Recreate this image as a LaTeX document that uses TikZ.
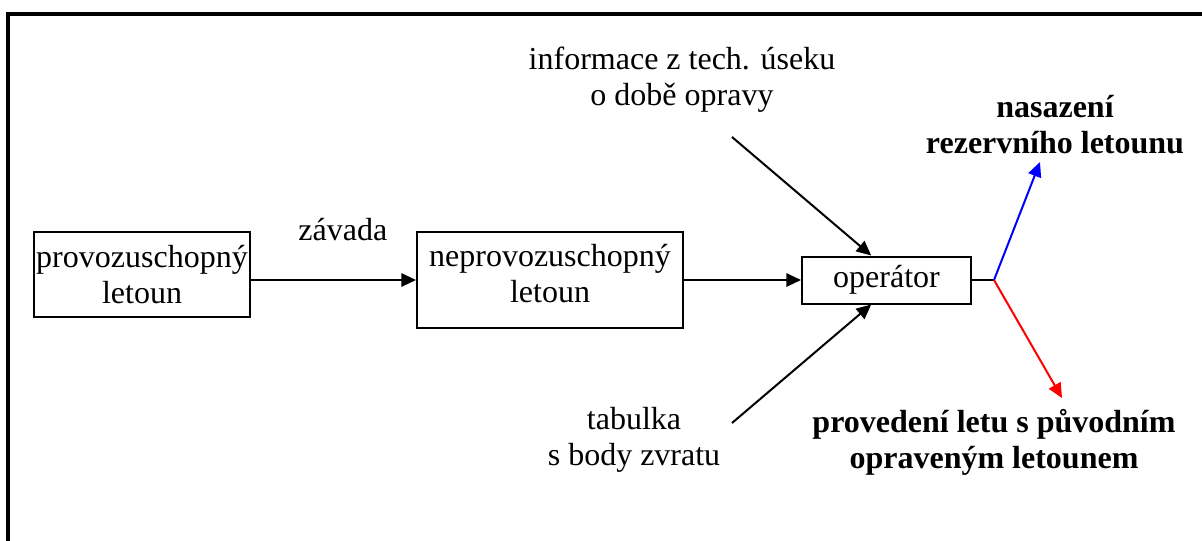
\documentclass[tikz,border=0pt]{standalone}
\usepackage{fontspec}
\setmainfont{Liberation Serif}
\usetikzlibrary{arrows.meta}

\begin{document}
\begin{tikzpicture}[x=0.75pt,y=-0.75pt,>={Triangle[length=11pt,width=10pt]},
stav/.style={rectangle,draw=black,line width=1.5pt,inner sep=1pt,align=center,font=\fontsize{24}{27}\selectfont},
popis/.style={align=center,font=\fontsize{24}{27}\selectfont},
vysledek/.style={align=center,font=\fontsize{24}{27}\selectfont\bfseries}]

\useasboundingbox (0,0) rectangle (1202,540);
\begin{scope}
\clip (0,0) rectangle (1202,540);
\draw[line width=3pt] (8,14) rectangle (1220,560);
\end{scope}

\pgfmathsetmacro{\osa}{280}

\node[stav,minimum width=162pt,minimum height=63.75pt](provoz) at (142,274.5){provozuschopný\\letoun};
\node[stav,minimum width=199.5pt,minimum height=72pt,text depth=10pt](neprovoz) at (550,\osa){neprovozuschopný\\letoun};
\node[stav,minimum width=126.75pt,minimum height=35.25pt](operator) at (886.5,\osa){operátor};

\node[popis](info) at (682,80){informace z tech. úseku\\o době opravy};
\node[popis](tabulka) at (634,440){tabulka\\s body zvratu};
\node[vysledek](rezerva) at (1055,125){nasazení\\rezervního letounu};
\node[vysledek](oprava) at (994,442){provedení letu s původním\\opraveným letounem};

\coordinate (info-start) at (732,137);
\coordinate (tabulka-start) at (732,423);
\coordinate (uzel) at (994,\osa);
\coordinate (rezerva-hrot) at (1040,162);
\coordinate (oprava-hrot) at (1062,398);

\begin{scope}[->, line width=1.5pt]
\draw (provoz.east |- neprovoz.west)--(neprovoz.west) node[pos=.5, above=25pt, xshift=7pt]{\fontsize{24}{27}\selectfont závada};
\draw (neprovoz)--(operator);
\draw (info-start)--(operator.122);
\draw (tabulka-start)--(operator.238);
\draw[-] (operator)--(uzel);
\draw[blue] (uzel)--(rezerva-hrot);
\draw[red] (uzel)--(oprava-hrot);
\end{scope}

\end{tikzpicture}
\end{document}
